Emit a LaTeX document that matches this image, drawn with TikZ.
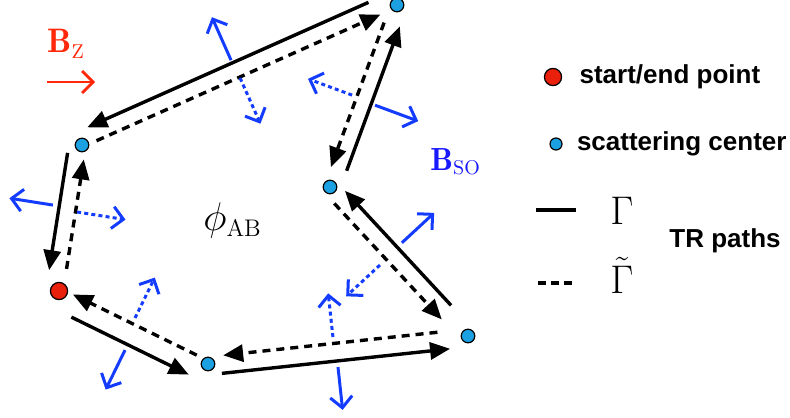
\RequirePackage{fix-cm}
\documentclass[tikz,border=0pt]{standalone}
\usepackage{fontspec}
\setsansfont{Liberation Sans}
\usetikzlibrary{arrows.meta,positioning,calc}
\definecolor{sitecyan}{RGB}{27,161,226}
\definecolor{startred}{RGB}{232,32,12}
\definecolor{soblue}{RGB}{20,60,255}
\definecolor{sotext}{RGB}{25,25,255}
\definecolor{bzred}{RGB}{255,40,10}
\newcommand{\subtxt}[2]{\hbox{\fontsize{#1}{#1}\selectfont #2}}

\begin{document}
\begin{tikzpicture}[x=0.5pt,y=-0.5pt,
  site/.style={circle,draw,line width=0.6pt,fill=sitecyan,inner sep=0pt,minimum size=6.8pt},
  startpt/.style={site,fill=startred,minimum size=8.6pt},
  gam/.style={line width=1.7pt,-{Triangle[length=10pt,width=8.5pt]}},
  gamt/.style={gam,dash pattern=on 4pt off 3pt},
  lane/.style={to path={($(\tikztostart)!#1!-90:(\tikztotarget)$)--($(\tikztotarget)!#1!90:(\tikztostart)$)}},
  nso/.style={soblue,line width=1.5pt,-{Straight Barb[length=5.5pt,width=11pt]}},
  nsoin/.style={nso,dash pattern=on 2pt off 1.6pt},
  keytext/.style={font=\sffamily\bfseries\fontsize{13}{15}\selectfont,inner sep=0pt}]
\useasboundingbox (0,0) rectangle (790,417);
% scattering sites
\node[startpt] (R) at (59,291) {};
\node[site] (A) at (82,145) {};
\node[site] (T) at (397,5) {};
\node[site] (M) at (330,187) {};
\node[site] (Q) at (468,336) {};
\node[site] (S) at (208,364) {};
% path Gamma
\draw[gam,shorten <=11.3pt,shorten >=6.3pt] (R) to[lane=9pt] (S);
\draw[gam,shorten <=6.4pt,shorten >=9.6pt] (S) to[lane=5.4pt] (Q);
\draw[gam,shorten <=17pt,shorten >=6.5pt] (Q) to[lane=4.2pt] (M);
\draw[gam,shorten <=10.5pt,shorten >=9.5pt] (M) to[lane=5pt] (T);
\draw[gam,shorten <=12.5pt,shorten >=6pt] (T) to[lane=7pt] (A);
\draw[gam,shorten <=5pt,shorten >=9.5pt] (A) to[lane=6.5pt] (R);
% time reversed path
\draw[gamt,shorten <=11.5pt,shorten >=7pt] (R) to[lane=2pt] (A);
\draw[gamt,shorten <=7.5pt,shorten >=9.5pt] (A) to[lane=1pt] (T);
\draw[gamt,shorten <=10.5pt,shorten >=9.5pt] (T) to[lane=3pt] (M);
\draw[gamt,shorten <=7.5pt,shorten >=15pt] (M) to[lane=4pt] (Q);
\draw[gamt,shorten <=15pt,shorten >=8pt] (Q) to[lane=3.5pt] (S);
\draw[gamt,shorten <=7pt,shorten >=7pt] (S) to[lane=1.5pt] (R);
% spin-orbit field, outward and inward
\draw[nso] ($(R)!.514!(S)!12pt!-90:(S)$) -- ($(R)!.514!(S)!34pt!-90:(S)$);
\draw[nsoin] ($(R)!.483!(S)!4.6pt!90:(S)$) -- ($(R)!.483!(S)!27.1pt!90:(S)$);
\draw[nso] ($(S)!.493!(Q)!8.5pt!-90:(Q)$) -- ($(S)!.493!(Q)!30pt!-90:(Q)$);
\draw[nsoin] ($(S)!.486!(Q)!6.7pt!90:(Q)$) -- ($(S)!.486!(Q)!28.7pt!90:(Q)$);
\draw[nso] ($(Q)!.558!(M)!7.4pt!-90:(M)$) -- ($(Q)!.558!(M)!29.4pt!-90:(M)$);
\draw[nsoin] ($(Q)!.551!(M)!8.2pt!90:(M)$) -- ($(Q)!.551!(M)!31.2pt!90:(M)$);
\draw[nso] ($(M)!.476!(T)!7pt!-90:(T)$) -- ($(M)!.476!(T)!30pt!-90:(T)$);
\draw[nsoin] ($(M)!.484!(T)!5.5pt!90:(T)$) -- ($(M)!.484!(T)!29pt!90:(T)$);
\draw[nso] ($(T)!.505!(A)!8.5pt!-90:(A)$) -- ($(T)!.505!(A)!32pt!-90:(A)$);
\draw[nsoin] ($(T)!.502!(A)!1.5pt!90:(A)$) -- ($(T)!.502!(A)!26.5pt!90:(A)$);
\draw[nso] ($(A)!.432!(R)!9.7pt!-90:(R)$) -- ($(A)!.432!(R)!31.7pt!-90:(R)$);
\draw[nsoin] ($(A)!.453!(R)!2.8pt!90:(R)$) -- ($(A)!.453!(R)!27.3pt!90:(R)$);
% field labels
\node[anchor=base west,inner sep=0pt,text=bzred] (bz) at (47,53) {\fontsize{17}{20}\selectfont$\mathbf{B}_{\subtxt{10}{Z}}$};
\coordinate (bzl) at (47,82);
\coordinate (bzr) at (95,82);
\draw[bzred,line width=1.4pt,-{Straight Barb[length=5.5pt,width=11pt]}] (bzl) -- (bzr);
\node[anchor=base west,inner sep=0pt,text=sotext] (bso) at (430,170) {\fontsize{16}{19}\selectfont$\mathbf{B}_{\subtxt{10}{SO}}$};
\node[anchor=base west,inner sep=0pt] (phi) at (203,230) {\fontsize{20}{24}\selectfont$\phi_{\subtxt{12}{AB}}$};
% legend
\node[startpt] (kstart) at (553,77) {};
\node[keytext,right=8.5pt of kstart] (kstarttxt) {start/end point};
\node[site,minimum size=6pt] (ksite) at (556,144) {};
\node[keytext,right=7pt of ksite] (ksitetxt) {scattering center};
\coordinate (kg1) at (536,210);
\coordinate (kg2) at (576,210);
\draw[line width=2pt] (kg1) -- (kg2);
\node[inner sep=0pt] (kgam) at (622,211) {\fontsize{20}{24}\selectfont$\Gamma$};
\coordinate (kt1) at (538,283);
\coordinate (kt2) at (574,283);
\draw[line width=1.6pt,dash pattern=on 4pt off 2.5pt] (kt1) -- (kt2);
\node[inner sep=0pt] (kgamt) at (622,275) {\fontsize{20}{24}\selectfont$\tilde{\Gamma}$};
\node[keytext] (trp) at (725,241) {TR paths};
\end{tikzpicture}
\end{document}
